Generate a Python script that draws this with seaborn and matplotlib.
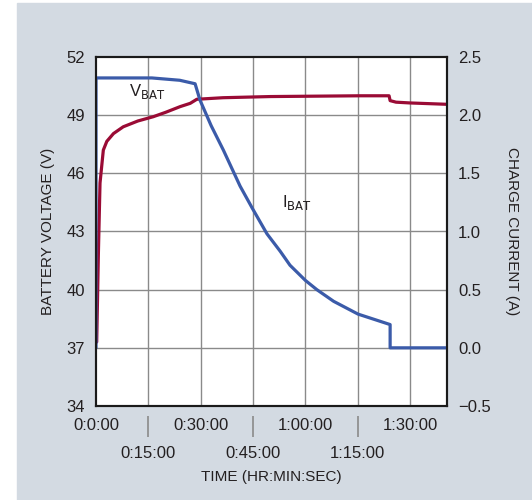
import pandas as pd
import matplotlib
matplotlib.use("Agg")
import matplotlib.pyplot as plt
import seaborn as sns
from matplotlib.patches import Rectangle

sns.set_style("white")
plt.rcParams['font.family'] = ['Liberation Sans Narrow', 'Liberation Sans', 'DejaVu Sans']
plt.rcParams['mathtext.fontset'] = 'custom'
plt.rcParams['mathtext.rm'] = 'Liberation Sans Narrow'
plt.rcParams['mathtext.it'] = 'Liberation Sans Narrow'

# battery voltage (V) vs time (minutes)
volt_time = [0.2, 0.7, 1.15, 2.1, 3.1, 5.0, 7.8, 12.0, 16.4, 20.0, 24.1, 27.0,
             28.9, 36.4, 50.0, 75.7, 84.0, 84.3, 86.0, 90.0, 100.6]
volt_vals = [37.3, 42.0, 45.5, 47.2, 47.65, 48.05, 48.4, 48.7, 48.92, 49.15, 49.44, 49.61,
             49.82, 49.9, 49.96, 50.0, 50.0, 49.75, 49.67, 49.63, 49.56]

# charge current (A) vs time (minutes)
curr_time = [0.0, 0.0, 16.0, 24.0, 28.4, 29.8, 33.0, 36.5, 41.3, 44.8, 49.0, 52.8,
             55.6, 60.0, 63.3, 68.1, 75.1, 84.3, 84.3, 100.6]
curr_vals = [0.0, 2.32, 2.32, 2.30, 2.27, 2.13, 1.91, 1.70, 1.39, 1.20, 0.98, 0.83,
             0.71, 0.58, 0.50, 0.40, 0.29, 0.20, 0.0, 0.0]

volt_ticks = [34, 37, 40, 43, 46, 49, 52]
curr_ticks = [-0.5, 0.0, 0.5, 1.0, 1.5, 2.0, 2.5]
major_x = [0, 30, 60, 90]
major_labels = ["0:0:00", "0:30:00", "1:00:00", "1:30:00"]
minor_x = [15, 45, 75]
minor_labels = ["0:15:00", "0:45:00", "1:15:00"]

volt_df = pd.DataFrame({"t": volt_time, "v": volt_vals})
curr_df = pd.DataFrame({"t": curr_time, "i": curr_vals})

red = "#9a0b35"
blue = "#3b5ba9"
txt = "#231f20"
grid = "#8a8a8a"

fig = plt.figure(figsize=(5.32, 5.00), dpi=100)
fig.patch.set_facecolor("white")
bg = Rectangle((17 / 532, 0), 1 - 17 / 532, 497 / 500,
               transform=fig.transFigure, color="#d3dae2", zorder=-10)
fig.add_artist(bg)

ax = fig.add_axes([96 / 532, 1 - 406 / 500, 351 / 532, 349 / 500])
ax.set_facecolor("white")
ax2 = ax.twinx()

sns.lineplot(data=volt_df, x="t", y="v", ax=ax, color=red, lw=2.3,
             estimator=None, sort=False)
sns.lineplot(data=curr_df, x="t", y="i", ax=ax2, color=blue, lw=2.3,
             estimator=None, sort=False)

ax.set_xlim(0, 100.6)
ax.set_ylim(34, 52)
ax2.set_ylim(-0.5, 2.5)
ax.set_yticks(volt_ticks)
ax.set_yticklabels([str(v) for v in volt_ticks])
ax2.set_yticks(curr_ticks)
ax2.set_yticklabels([f"{v:.1f}".replace("-", "\u2212") for v in curr_ticks])

ax.set_xticks(major_x)
ax.set_xticklabels(major_labels)
ax.set_xticks(minor_x, minor=True)
ax.set_xticklabels(minor_labels, minor=True)
ax.tick_params(axis="x", which="major", length=0, pad=9, labelsize=12, labelcolor=txt)
ax.tick_params(axis="x", which="minor", length=0, pad=29, labelsize=12, labelcolor=txt)
ax.tick_params(axis="y", length=0, pad=8, labelsize=12, labelcolor=txt)
ax2.tick_params(axis="y", length=0, pad=8, labelsize=12, labelcolor=txt)

# separated tick marks under the axis for the lower label row
ax.vlines(minor_x, -0.029, -0.089, transform=ax.get_xaxis_transform(),
          color=grid, lw=1.2, clip_on=False)

for xv in major_x[1:] + minor_x:
    ax.axvline(xv, color=grid, lw=1, zorder=0)
for yv in volt_ticks[1:-1]:
    ax.axhline(yv, color=grid, lw=1, zorder=0)

for a in (ax, ax2):
    for s in a.spines.values():
        s.set_color("#1a1a1a")
        s.set_linewidth(1.5)

ax.set_xlabel("TIME (HR:MIN:SEC)", fontsize=11, color=txt, labelpad=6)
ax.set_ylabel("BATTERY VOLTAGE (V)", fontsize=11, color=txt, labelpad=8)
ax2.set_ylabel("CHARGE CURRENT (A)", fontsize=11, color=txt, rotation=270, labelpad=20)

ax.text(9.6, 50.2, r"V$_{\mathrm{BAT}}$", fontsize=12, color=txt, va="center")
ax.text(53.3, 44.5, r"I$_{\mathrm{BAT}}$", fontsize=12, color=txt, va="center")

fig.savefig("out.png", dpi=100, facecolor=fig.get_facecolor())
